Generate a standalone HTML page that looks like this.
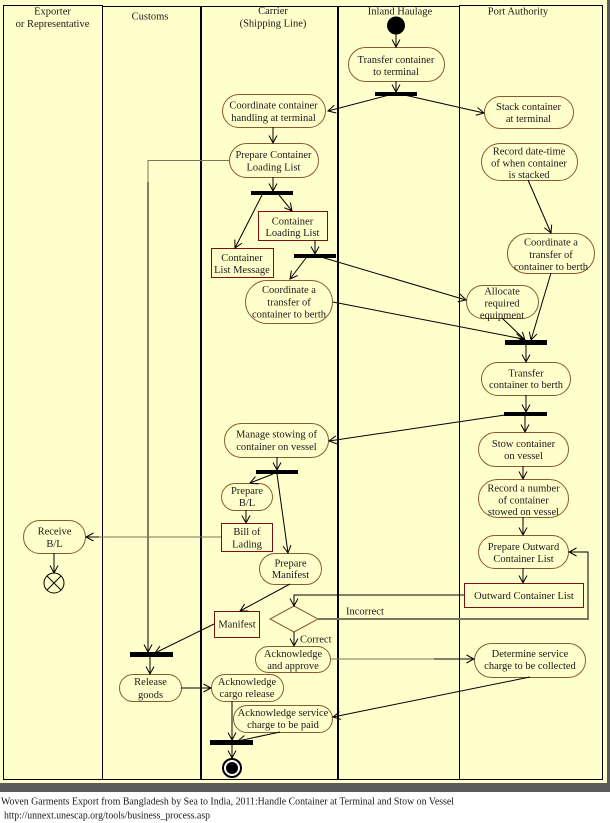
<!DOCTYPE html>
<html>
<head>
<meta charset="utf-8">
<style>
html,body{margin:0;padding:0;background:#fff;}
svg{display:block;}
text{font-family:"Liberation Serif","Times New Roman",serif;font-size:10.5px;fill:#1a1a1a;}
.n{fill:none;stroke:#8a5a30;stroke-width:1;}
.b{fill:none;stroke:#7a1010;stroke-width:1;}
.l{fill:none;stroke:#000;stroke-width:1;}
.g{fill:none;stroke:#77775a;stroke-width:1;}
</style>
</head>
<body>
<svg width="610" height="823" viewBox="0 0 610 823" xmlns="http://www.w3.org/2000/svg">
<defs>
<marker id="a" markerWidth="10" markerHeight="10" refX="9" refY="5" orient="auto" markerUnits="userSpaceOnUse">
<path d="M1.5,1 L9,5 L1.5,9" fill="none" stroke="#000" stroke-width="1"/>
</marker>
</defs>
<!-- background -->
<rect x="0" y="0" width="610" height="823" fill="#fff"/>
<rect x="0" y="0" width="608" height="784" fill="#ffffcc"/>
<rect x="0" y="783" width="610" height="9" fill="#5a5a5a"/>
<rect x="607" y="0" width="3" height="792" fill="#5a5a5a"/>

<!-- lanes -->
<g stroke="#000" fill="none">
<line x1="3" y1="5.5" x2="102" y2="5.5" stroke-width="1"/>
<line x1="102" y1="6.5" x2="459" y2="6.5" stroke-width="1"/>
<line x1="459" y1="5.5" x2="603" y2="5.5" stroke-width="1"/>
<line x1="3" y1="779.5" x2="603" y2="779.5" stroke-width="1"/>
<line x1="3.5" y1="5" x2="3.5" y2="780" stroke-width="1"/>
<line x1="102.5" y1="5" x2="102.5" y2="780" stroke-width="1"/>
<line x1="201" y1="6" x2="201" y2="780" stroke-width="2"/>
<line x1="338" y1="6" x2="338" y2="780" stroke-width="2"/>
<line x1="459.5" y1="5" x2="459.5" y2="780" stroke-width="1"/>
<line x1="602.5" y1="5" x2="602.5" y2="780" stroke-width="1"/>
</g>

<!-- lane headers -->
<g text-anchor="middle">
<text x="52.5" y="14.5">Exporter</text>
<text x="52.5" y="27">or Representative</text>
<text x="150" y="19.5">Customs</text>
<text x="273" y="14">Carrier</text>
<text x="273" y="26.5">(Shipping Line)</text>
<text x="400" y="14.5">Inland Haulage</text>
<text x="518" y="14.5">Port Authority</text>
</g>

<!-- start node -->
<circle cx="396" cy="25.5" r="9" fill="#000"/>

<!-- bars -->
<g fill="#000">
<rect x="375" y="92" width="42" height="4"/>
<rect x="251" y="191" width="42" height="4"/>
<rect x="294" y="254" width="42" height="4"/>
<rect x="505" y="340" width="42" height="5"/>
<rect x="504" y="412" width="43" height="4"/>
<rect x="256" y="470" width="42" height="4"/>
<rect x="130" y="652" width="43" height="5"/>
<rect x="210" y="740" width="43" height="5"/>
</g>

<!-- action nodes -->
<g class="n">
<rect x="348.5" y="47.5" width="96" height="34" rx="17"/>
<rect x="222.5" y="94.5" width="103" height="33" rx="16.5"/>
<rect x="229.5" y="143.5" width="89" height="34" rx="17"/>
<rect x="484.5" y="96.5" width="89" height="32" rx="16"/>
<rect x="481.5" y="143.5" width="96" height="37" rx="18.5"/>
<rect x="245.5" y="280.5" width="87" height="43" rx="21.5"/>
<rect x="466.5" y="285.5" width="72" height="33" rx="16.5"/>
<rect x="507.5" y="233.5" width="87" height="40" rx="20"/>
<rect x="481.5" y="362.5" width="89" height="33" rx="16.5"/>
<rect x="224.5" y="423.5" width="104" height="34" rx="17"/>
<rect x="478.5" y="432.5" width="90" height="34" rx="17"/>
<rect x="478.5" y="479.5" width="90" height="38" rx="19"/>
<rect x="478.5" y="535.5" width="90" height="33" rx="16.5"/>
<rect x="221.5" y="483.5" width="51" height="27" rx="13.5"/>
<rect x="259.5" y="553.5" width="62" height="31" rx="15.5"/>
<rect x="255.5" y="646.5" width="75" height="26" rx="13"/>
<rect x="474.5" y="643.5" width="111" height="34" rx="17"/>
<rect x="233.5" y="705.5" width="99" height="27" rx="13.5"/>
<rect x="211.5" y="674.5" width="72" height="27" rx="13.5"/>
<rect x="119.5" y="674.5" width="62" height="27" rx="13.5"/>
<rect x="23.5" y="520.5" width="62" height="33" rx="16.5"/>
<polygon points="294,606 318,619 294,632 270,619"/>
</g>

<!-- object boxes -->
<g class="b">
<rect x="258.5" y="211.5" width="69" height="29"/>
<rect x="211.5" y="248.5" width="62" height="29"/>
<rect x="464.5" y="583.5" width="119" height="24"/>
<rect x="221.5" y="523.5" width="51" height="28"/>
<rect x="214.5" y="611.5" width="45" height="26"/>
</g>

<!-- final nodes -->
<circle cx="54" cy="583" r="10" fill="none" stroke="#000" stroke-width="1"/>
<line x1="47" y1="576" x2="61" y2="590" stroke="#000"/>
<line x1="61" y1="576" x2="47" y2="590" stroke="#000"/>
<circle cx="232" cy="768" r="9" fill="#fff" stroke="#000" stroke-width="2"/>
<circle cx="232" cy="768" r="6" fill="#000"/>

<!-- connectors -->
<g class="l">
<line x1="396" y1="34" x2="396" y2="47" marker-end="url(#a)"/>
<line x1="396" y1="81" x2="396" y2="92" marker-end="url(#a)"/>
<line x1="393" y1="94" x2="328" y2="111" marker-end="url(#a)"/>
<line x1="400" y1="94" x2="484" y2="113" marker-end="url(#a)"/>
<line x1="273" y1="127" x2="273" y2="143" marker-end="url(#a)"/>
<line x1="273" y1="177" x2="273" y2="191" marker-end="url(#a)"/>
<line x1="262" y1="195" x2="235" y2="248" marker-end="url(#a)"/>
<line x1="279" y1="195" x2="292" y2="211" marker-end="url(#a)"/>
<line x1="315" y1="240" x2="315" y2="254" marker-end="url(#a)"/>
<line x1="306" y1="258" x2="290" y2="279" marker-end="url(#a)"/>
<line x1="321" y1="257" x2="466" y2="300" marker-end="url(#a)"/>
<line x1="333" y1="302" x2="523" y2="339" marker-end="url(#a)"/>
<line x1="528" y1="180" x2="551" y2="233" marker-end="url(#a)"/>
<line x1="551" y1="273" x2="531" y2="340" marker-end="url(#a)"/>
<line x1="502" y1="318" x2="525" y2="340" marker-end="url(#a)"/>
<line x1="526" y1="345" x2="526" y2="362" marker-end="url(#a)"/>
<line x1="526" y1="395" x2="526" y2="412" marker-end="url(#a)"/>
<line x1="525" y1="416" x2="525" y2="432" marker-end="url(#a)"/>
<line x1="505" y1="415" x2="329" y2="441" marker-end="url(#a)"/>
<line x1="277" y1="457" x2="277" y2="470" marker-end="url(#a)"/>
<line x1="273" y1="474" x2="250" y2="483" marker-end="url(#a)"/>
<line x1="277" y1="474" x2="288" y2="553" marker-end="url(#a)"/>
<line x1="523" y1="466" x2="523" y2="479" marker-end="url(#a)"/>
<line x1="523" y1="517" x2="523" y2="535" marker-end="url(#a)"/>
<line x1="523" y1="568" x2="523" y2="583" marker-end="url(#a)"/>
<polyline points="464,595 294,595 294,606" marker-end="url(#a)"/>
<polyline points="588,619 588,552 569,552" marker-end="url(#a)"/>
<line x1="294" y1="632" x2="294" y2="646" marker-end="url(#a)"/>
<line x1="433" y1="659" x2="474" y2="659" marker-end="url(#a)"/>
<line x1="530" y1="677" x2="333" y2="717" marker-end="url(#a)"/>
<line x1="246" y1="510" x2="246" y2="523" marker-end="url(#a)"/>
<line x1="54" y1="553" x2="54" y2="573" marker-end="url(#a)"/>
<line x1="290" y1="584" x2="240" y2="611" marker-end="url(#a)"/>
<line x1="214" y1="624" x2="155" y2="653" marker-end="url(#a)"/>
<line x1="150" y1="657" x2="150" y2="674" marker-end="url(#a)"/>
<line x1="181" y1="688" x2="211" y2="688" marker-end="url(#a)"/>
<line x1="232" y1="701" x2="232" y2="740" marker-end="url(#a)"/>
<line x1="280" y1="732" x2="238" y2="741" marker-end="url(#a)"/>
<line x1="232" y1="745" x2="232" y2="758" marker-end="url(#a)"/>
<polyline points="148,180 148,652" marker-end="url(#a)"/>
<line x1="100" y1="537" x2="86" y2="537" marker-end="url(#a)"/>
</g>
<g class="g">
<polyline points="229,160.5 148,160.5 148,182"/>
<line x1="221" y1="537" x2="99" y2="537"/>
<line x1="330" y1="659" x2="434" y2="659"/>
<line x1="318" y1="619" x2="589" y2="619" stroke-width="2"/>
</g>

<!-- node labels -->
<g text-anchor="middle">
<text x="396" y="63">Transfer container</text>
<text x="396" y="75">to terminal</text>
<text x="273.5" y="108.5">Coordinate container</text>
<text x="273.5" y="121">handling at terminal</text>
<text x="273.5" y="158">Prepare Container</text>
<text x="273.5" y="170.5">Loading List</text>
<text x="528.5" y="110">Stack container</text>
<text x="528.5" y="122">at terminal</text>
<text x="529" y="154.5">Record date-time</text>
<text x="529" y="166.5">of when container</text>
<text x="529" y="178">is stacked</text>
<text x="292.5" y="224.5">Container</text>
<text x="292.5" y="236">Loading List</text>
<text x="242" y="261">Container</text>
<text x="242" y="273">List Message</text>
<text x="289" y="293">Coordinate a</text>
<text x="289" y="305.5">transfer of</text>
<text x="289" y="317.5">container to berth</text>
<text x="502" y="294.5">Allocate</text>
<text x="502" y="306.5">required</text>
<text x="502" y="318.5">equipment</text>
<text x="551" y="245.5">Coordinate a</text>
<text x="551" y="258">transfer of</text>
<text x="551" y="270">container to berth</text>
<text x="526" y="376.5">Transfer</text>
<text x="526" y="388">container to berth</text>
<text x="276.5" y="437.5">Manage stowing of</text>
<text x="276.5" y="450">container on vessel</text>
<text x="523.5" y="447">Stow container</text>
<text x="523.5" y="459">on vessel</text>
<text x="523.5" y="491.5">Record a number</text>
<text x="523.5" y="503.5">of container</text>
<text x="523.5" y="515">stowed on vessel</text>
<text x="523.5" y="550">Prepare Outward</text>
<text x="523.5" y="562">Container List</text>
<text x="524" y="599">Outward Container List</text>
<text x="247" y="494">Prepare</text>
<text x="247" y="506">B/L</text>
<text x="247" y="535">Bill of</text>
<text x="247" y="547.5">Lading</text>
<text x="290.5" y="566.5">Prepare</text>
<text x="290.5" y="578">Manifest</text>
<text x="237" y="627.5">Manifest</text>
<text x="293" y="657">Acknowledge</text>
<text x="293" y="669">and approve</text>
<text x="530" y="657">Determine service</text>
<text x="530" y="669">charge to be collected</text>
<text x="283" y="716">Acknowledge service</text>
<text x="283" y="728">charge to be paid</text>
<text x="247" y="685">Acknowledge</text>
<text x="247" y="697">cargo release</text>
<text x="150.5" y="685">Release</text>
<text x="150.5" y="698">goods</text>
<text x="54.5" y="534.5">Receive</text>
<text x="54.5" y="547">B/L</text>
</g>
<text x="346" y="614.5">Incorrect</text>
<text x="300" y="642.5">Correct</text>

<!-- caption -->
<text x="1" y="804.5" font-size="11" textLength="453" lengthAdjust="spacingAndGlyphs">Woven Garments Export from Bangladesh by Sea to India, 2011:Handle Container at Terminal and Stow on Vessel</text>
<text x="4" y="818.5" font-size="11" textLength="206" lengthAdjust="spacingAndGlyphs">http://unnext.unescap.org/tools/business_process.asp</text>
</svg>
</body>
</html>
